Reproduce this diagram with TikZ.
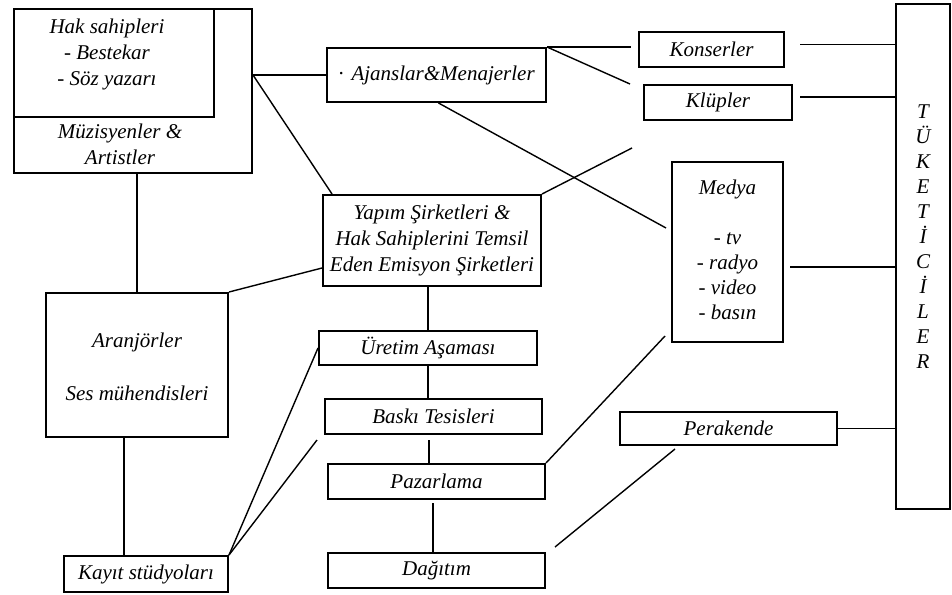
\documentclass[tikz,border=0pt]{standalone}
\usepackage{fontspec}
\setmainfont{Liberation Serif}
\tikzset{every node/.style={font=\itshape\fontsize{10.5}{13}\selectfont},line cap=round,line join=round}
\tikzset{
  box/.style={draw,line width=1pt,inner sep=0pt,align=center},
  link/.style={line width=0.7pt}
}

\begin{document}
\begin{tikzpicture}[x=0.5pt,y=-0.5pt]
  \path[use as bounding box] (0,0) rectangle (952,594);
  % left column
  \node[box,minimum width=119pt,minimum height=82pt] (musi) at (133,91) {};
  \node[box,minimum width=100pt,minimum height=54pt] (hak) at (114,63) {};
  \node[align=center] (haktext) at (107,54) {Hak sahipleri\\- Bestekar\\- Söz yazarı};
  \node[align=center] (musitext) at (120,144) {Müzisyenler \&\\Artistler};
  \node[box,minimum width=91pt,minimum height=72pt] (aran) at (137,365) {};
  \node (arantext) at (137,342) {Aranjörler};
  \node (sestext) at (137,393) {Ses mühendisleri};
  \node[box,minimum width=82pt,minimum height=18pt] (kayit) at (146,574) {Kayıt stüdyoları};
  % middle column
  \node[box,minimum width=109.5pt,minimum height=27pt] (ajans) at (436.5,75) {·\hspace{4pt}Ajanslar\&Menajerler};
  \node[box,minimum width=109pt,minimum height=45.5pt] (yapim) at (432,240.5)
    {Yapım Şirketleri \&\\Hak Sahiplerini Temsil\\Eden Emisyon Şirketleri};
  \node[box,minimum width=109pt,minimum height=17pt] (uretim) at (428,348) {Üretim Aşaması};
  \node[box,minimum width=108.5pt,minimum height=17.5pt] (baski) at (433.5,416.5) {Baskı Tesisleri};
  \node[box,minimum width=108.5pt,minimum height=17.5pt] (pazar) at (436.5,481.5) {Pazarlama};
  \node[box,minimum width=108.5pt,minimum height=17.5pt] (dagitim) at (436.5,570.5) {Dağıtım};
  % right column
  \node[box,minimum width=72.5pt,minimum height=17.5pt] (konser) at (711.5,49.5) {Konserler};
  \node[box,minimum width=74pt,minimum height=17.5pt] (klup) at (718,102.5) {Klüpler};
  \node[box,minimum width=55.5pt,minimum height=90pt] (medya) at (727.5,252) {};
  \node[align=center,font=\itshape\fontsize{10.5}{12.5}\selectfont] (medyatext) at (727.5,250)
    {Medya\\[12.5pt]- tv\\- radyo\\- video\\- basın};
  \node[box,minimum width=108.5pt,minimum height=16.5pt] (perak) at (728.5,428.5) {Perakende};
  \node[box,minimum width=27pt,minimum height=252.5pt] (tuket) at (922.5,256.5) {};
  \node[align=center,font=\itshape\fontsize{10.5}{12.5}\selectfont] (tukettext) at (923,237)
    {T\\Ü\\K\\E\\T\\İ\\C\\İ\\L\\E\\R};
  \coordinate (yapimend) at (632,148);

  % connectors
  \draw[link] (ajans.west -| musi.east) -- (ajans.west);
  \draw[link] (ajans.west -| musi.east) -- ([xshift=5pt]yapim.north west);
  \draw[link] (aran.north |- musi.south) -- (aran.north);
  \draw[link] (aran.north east) -- ([yshift=9.5pt]yapim.south west);
  \draw[link] ([xshift=-6.5pt]aran.south) -- ([xshift=-6.5pt]aran.south |- kayit.north);
  \draw[link] (kayit.north east) -- (uretim.west);
  \draw[link] (kayit.north east) -- ([shift={(-3.5pt,-2.5pt)}]baski.south west);
  \draw[link] (uretim.north) -- (uretim.north |- yapim.south);
  \draw[link] (uretim.south) -- (uretim.south |- baski.north);
  \draw[link] ([yshift=-2.5pt]baski.south -| pazar.north) ++(-3.75pt,0) -- +(0,-12.5pt);
  \draw[link] ([shift={(-1.75pt,-1.5pt)}]pazar.south) -- ([xshift=-1.75pt]pazar.south |- dagitim.north);
  \draw[link] (ajans.north east) -- ([xshift=-3.5pt]konser.west |- ajans.north east);
  \draw[link] (ajans.north east) -- ([xshift=-6.5pt]klup.north west);
  \draw[link] ([xshift=1pt]ajans.south) -- ([shift={(-2.5pt,12pt)}]medya.west);
  \draw[link] (yapim.north east) -- (yapimend);
  \draw[link] (pazar.north east) -- ([shift={(-3pt,3.5pt)}]medya.south west);
  \draw[link] ([shift={(28pt,-1.5pt)}]perak.south west) -- ([shift={(4.5pt,2.5pt)}]dagitim.north east);
  \draw[link] ([shift={(7.5pt,2.5pt)}]konser.east) coordinate (k1) -- (k1 -| tuket.west);
  \draw[link] ([shift={(3.5pt,2.75pt)}]klup.east) coordinate (k2) -- (k2 -| tuket.west);
  \draw[link] ([shift={(3pt,-7.5pt)}]medya.east) coordinate (k3) -- (k3 -| tuket.west);
  \draw[link] (perak.east) -- (perak.east -| tuket.west);
\end{tikzpicture}
\end{document}
